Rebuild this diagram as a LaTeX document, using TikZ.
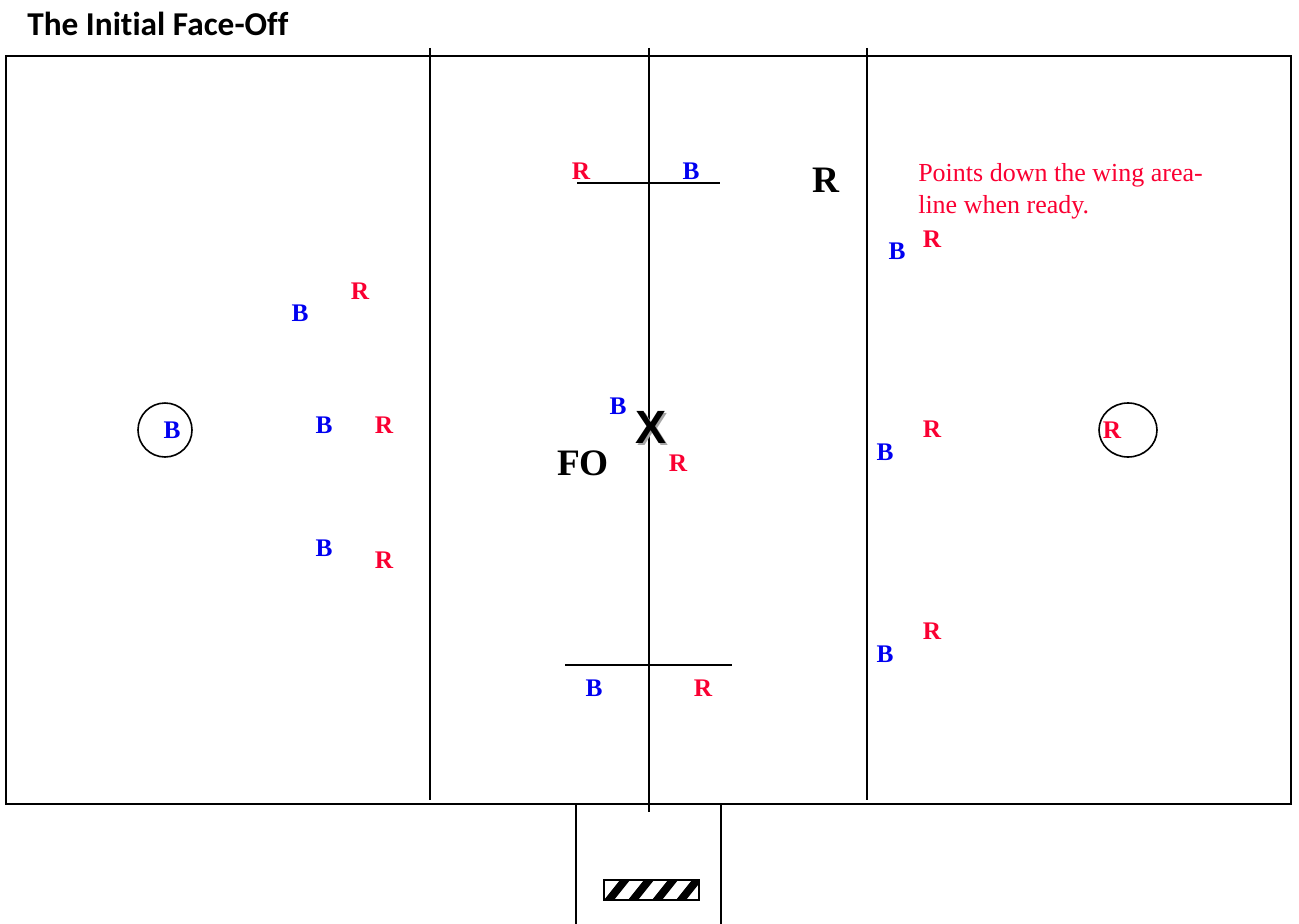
\documentclass[tikz,border=0pt]{standalone}
\usepackage{fontspec}
\setmainfont{Liberation Serif}
\newfontfamily\titlefont[Ligatures=NoCommon]{Carlito}
\newfontfamily\markfont{Liberation Sans}
\definecolor{teamblue}{RGB}{0,0,240}
\definecolor{teamred}{RGB}{250,0,50}
\begin{document}
\begin{tikzpicture}[x=0.75pt, y=-0.75pt,
  every node/.style={inner sep=0pt},
  field/.style={line width=1.4pt},
  blue player/.style={text=teamblue, font=\fontsize{19}{21}\selectfont\bfseries},
  red player/.style={text=teamred, font=\fontsize{19}{21}\selectfont\bfseries},
  big label/.style={font=\fontsize{28}{30}\selectfont\bfseries},
  note/.style={text=teamred, font=\fontsize{19.5}{24}\selectfont, align=left, anchor=base west}]
\useasboundingbox (0,0) rectangle (1299,924);

% title
\node[anchor=west, font=\titlefont\fontsize{25}{27}\selectfont\bfseries] (title) at (27,24) {The Initial Face-Off};

% field and lines
\draw[field] (6,56) rectangle (1291,804);
\draw[field] (430,48) -- (430,800);
\draw[field] (649,48) -- (649,812);
\draw[field] (867,48) -- (867,800);
\draw[field] (577,183) -- (720,183);
\draw[field] (565,665) -- (732,665);

% table area
\draw[field] (576,804) -- (576,924);
\draw[field] (721,804) -- (721,924);
\begin{scope}
  \clip (604,880) rectangle (699,900);
  \foreach \s in {0,24,48,72}
    \fill (604+\s,900) -- (614+\s,900) -- (630+\s,880) -- (620+\s,880) -- cycle;
\end{scope}
\draw[line width=1pt] (604,880) rectangle (699,900);

% goal creases
\draw[line width=1.2pt] (165,430) circle [radius=27];
\draw[line width=1.2pt] (1128,430) ellipse [x radius=29, y radius=27];

% left end
\node[blue player] (bg) at (172,430) {B};
\node[blue player] (b1) at (300,313) {B};
\node[red player] (r1) at (360,291) {R};
\node[blue player] (b2) at (324,425) {B};
\node[red player] (r2) at (384,425) {R};
\node[blue player] (b3) at (324,548) {B};
\node[red player] (r3) at (384,560) {R};

% midfield
\node[red player] (rw1) at (581,171) {R};
\node[blue player] (bw1) at (691,171) {B};
\node[blue player] (bw2) at (594,688) {B};
\node[red player] (rw2) at (703,688) {R};
\node[blue player] (bfo) at (618,406) {B};
\node[red player] (rfo) at (678,463) {R};
\node[big label] (fo) at (583,463) {FO};
\node[font=\markfont\fontsize{35}{37}\selectfont\bfseries] (x) at (651,428)
  {\rlap{\kern1.5pt\raisebox{-1.5pt}{\textcolor{black!35}{X}}}X};
\node[big label] (ref) at (826,180) {R};

% right end
\node[note] (pts) at (918,213) {Points down the wing area-\\line when ready.};
\node[blue player] (b4) at (897,251) {B};
\node[red player] (r4) at (932,239) {R};
\node[blue player] (b5) at (885,452) {B};
\node[red player] (r5) at (932,429) {R};
\node[blue player] (b6) at (885,654) {B};
\node[red player] (r6) at (932,631) {R};
\node[red player] (rg) at (1112,430) {R};
\end{tikzpicture}
\end{document}
